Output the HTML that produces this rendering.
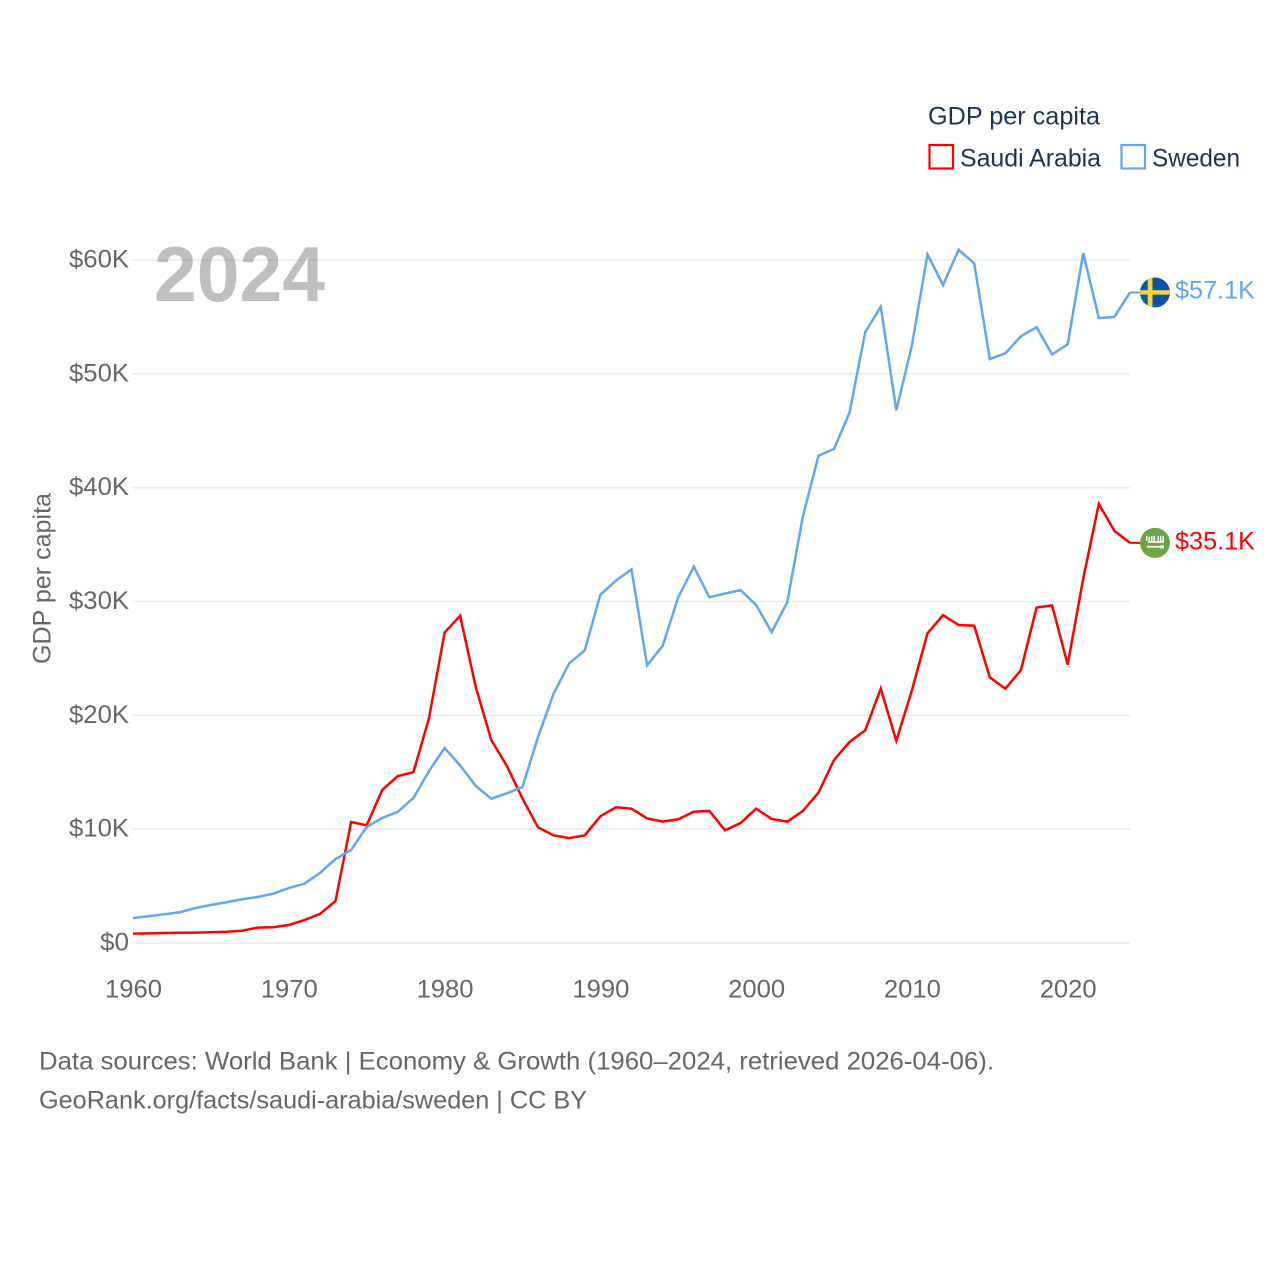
<!DOCTYPE html>
<html lang="en">
<head>
<meta charset="utf-8">
<title>GDP per capita: Saudi Arabia and Sweden</title>
<style>
html,body{margin:0;padding:0;background:#fff;width:1280px;height:1280px;overflow:hidden}
svg{display:block}
text{font-family:"Liberation Sans",Arial,sans-serif}
</style>
</head>
<body>
<svg id="chart" xmlns="http://www.w3.org/2000/svg" width="1280" height="1280" viewBox="0 0 1280 1280">
  <rect x="0" y="0" width="1280" height="1280" fill="#fff"/>
  <g id="grid"></g>
  <g id="yticks"></g>
  <g id="xticks"></g>
  <text transform="translate(50.5,664) rotate(-90)" font-size="25" fill="#666" textLength="171" lengthAdjust="spacingAndGlyphs">GDP per capita</text>
  <text x="154" y="301" font-size="78" font-weight="700" fill="#000" fill-opacity="0.25" textLength="171" lengthAdjust="spacingAndGlyphs">2024</text>
  <path id="line-saudi" fill="none" stroke="#ff0000" stroke-width="2.5" stroke-linejoin="miter"/>
  <path id="line-sweden" fill="none" stroke="#5fa8ee" stroke-width="2.5" stroke-linejoin="miter"/>
  <g id="end-saudi">
    <path id="stub-saudi" d="M0 0H10" stroke="#ff0000" stroke-width="2"/>
    <g>
      <circle cx="25" cy="0" r="15" fill="#6da544"/>
      <g fill="#fff">
        <rect x="16" y="-7" width="1.5" height="5"/><rect x="18.5" y="-6" width="1.5" height="5"/>
        <rect x="21" y="-7" width="1.5" height="6"/><rect x="23.5" y="-7" width="1.5" height="6"/>
        <rect x="27.5" y="-7" width="1.5" height="6"/><rect x="30" y="-7" width="1.5" height="6"/>
        <rect x="32.5" y="-7" width="1.5" height="6"/><rect x="18" y="-1.5" width="16" height="1.4"/>
        <rect x="17" y="3" width="13" height="1.8"/><rect x="30" y="2.4" width="4" height="3"/>
      </g>
    </g>
    <text id="label-saudi" x="45" y="6.5" font-size="25" fill="#ff0000" textLength="80" lengthAdjust="spacingAndGlyphs"></text>
  </g>
  <g id="end-sweden">
    <path id="stub-sweden" d="M0 0H10" stroke="#5fa8ee" stroke-width="2"/>
    <g>
      <circle cx="25" cy="0" r="15" fill="#0a53a8"/>
      <clipPath id="sweden-clip"><circle cx="25" cy="0" r="15"/></clipPath>
      <g clip-path="url(#sweden-clip)" fill="#fdd235">
        <rect x="17.7" y="-15" width="4.8" height="30"/>
        <rect x="10" y="-2.2" width="30" height="4.4"/>
      </g>
    </g>
    <text id="label-sweden" x="45" y="6" font-size="25" fill="#5fa8ee" textLength="80" lengthAdjust="spacingAndGlyphs"></text>
  </g>
  <g>
    <text x="928" y="124.5" font-size="25" fill="#1b3454" textLength="172" lengthAdjust="spacingAndGlyphs">GDP per capita</text>
    <g>
      <rect x="929.5" y="145" width="23.5" height="23.5" fill="#fff" stroke="#ff0000" stroke-width="2.2"/>
      <text x="960" y="166.5" font-size="25" fill="#1b3454" textLength="141" lengthAdjust="spacingAndGlyphs">Saudi Arabia</text>
    </g>
    <g>
      <rect x="1121.5" y="145" width="23.5" height="23.5" fill="#fff" stroke="#5fa8ee" stroke-width="2.2"/>
      <text x="1152" y="166.5" font-size="25" fill="#1b3454" textLength="88" lengthAdjust="spacingAndGlyphs">Sweden</text>
    </g>
  </g>
  <text x="39" y="1069.5" font-size="25" fill="#666" textLength="955" lengthAdjust="spacingAndGlyphs">Data sources: World Bank | Economy &amp; Growth (1960–2024, retrieved 2026-04-06).</text>
  <text x="39" y="1108.5" font-size="25" fill="#666" textLength="548" lengthAdjust="spacingAndGlyphs">GeoRank.org/facts/saudi-arabia/sweden | CC BY</text>
</svg>
<script>
const years = [1960,1961,1962,1963,1964,1965,1966,1967,1968,1969,1970,1971,1972,1973,1974,1975,1976,1977,1978,1979,1980,1981,1982,1983,1984,1985,1986,1987,1988,1989,1990,1991,1992,1993,1994,1995,1996,1997,1998,1999,2000,2001,2002,2003,2004,2005,2006,2007,2008,2009,2010,2011,2012,2013,2014,2015,2016,2017,2018,2019,2020,2021,2022,2023,2024];
const saudiValues = [0.82,0.85,0.88,0.90,0.91,0.94,0.99,1.08,1.35,1.38,1.58,2.02,2.55,3.69,10.63,10.34,13.44,14.67,15.0,19.74,27.26,28.75,22.5,17.83,15.55,12.7,10.16,9.46,9.22,9.46,11.13,11.92,11.8,10.95,10.66,10.87,11.53,11.6,9.9,10.54,11.8,10.9,10.66,11.6,13.2,16.08,17.66,18.68,22.34,17.77,22.2,27.2,28.8,27.93,27.87,23.34,22.34,23.98,29.46,29.66,24.45,32.04,38.57,36.2,35.15];
const swedenValues = [2.2,2.35,2.52,2.70,3.07,3.34,3.58,3.84,4.04,4.33,4.83,5.21,6.15,7.38,8.17,10.2,10.98,11.53,12.74,15.1,17.13,15.6,13.8,12.68,13.15,13.7,18.1,21.9,24.57,25.7,30.6,31.83,32.83,24.4,26.1,30.37,33.06,30.37,30.7,31.0,29.7,27.3,29.95,37.45,42.8,43.4,46.6,53.65,55.9,46.8,52.5,60.5,57.8,60.9,59.7,51.3,51.8,53.3,54.1,51.7,52.6,60.6,54.9,55.0,57.15];
const yTicks = [0,10,20,30,40,50,60];
const yTickLabels = ["$0","$10K","$20K","$30K","$40K","$50K","$60K"];
const xTicks = [1960,1970,1980,1990,2000,2010,2020];

const NS = "http://www.w3.org/2000/svg";
const xScale = function (yr) { return 133 + (yr - 1960) * (1130 - 133) / 64; };
const yScale = function (v) { return 943 - v * (943 - 260) / 60; };

function linePath(vals) {
  return vals.map(function (v, i) {
    return (i ? "L" : "M") + xScale(years[i]).toFixed(2) + " " + yScale(v).toFixed(2);
  }).join("");
}
function fmtK(v) { return "$" + (Math.floor(v * 10) / 10).toFixed(1) + "K"; }

const grid = document.getElementById("grid");
const yG = document.getElementById("yticks");
const xG = document.getElementById("xticks");

yTicks.forEach(function (t, i) {
  const ln = document.createElementNS(NS, "line");
  
  
  ln.setAttribute("x1", 133);
  ln.setAttribute("x2", 1130);
  ln.setAttribute("y1", yScale(t));
  ln.setAttribute("y2", yScale(t));
  ln.setAttribute("stroke", "#ececec");
  ln.setAttribute("stroke-width", "1.6");
  grid.appendChild(ln);

  const tx = document.createElementNS(NS, "text");
  
  
  const label = yTickLabels[i];
  tx.setAttribute("x", label.length > 2 ? 69 : 100);
  tx.setAttribute("y", yScale(t) + 7.5);
  tx.setAttribute("font-size", "25");
  tx.setAttribute("fill", "#666");
  tx.setAttribute("textLength", label.length > 2 ? 60 : 29);
  tx.setAttribute("lengthAdjust", "spacingAndGlyphs");
  tx.textContent = label;
  yG.appendChild(tx);
});

xTicks.forEach(function (t) {
  const tx = document.createElementNS(NS, "text");
  
  
  tx.setAttribute("x", xScale(t) - 28);
  tx.setAttribute("y", 997.5);
  tx.setAttribute("font-size", "25");
  tx.setAttribute("fill", "#666");
  tx.setAttribute("textLength", 57);
  tx.setAttribute("lengthAdjust", "spacingAndGlyphs");
  tx.textContent = t;
  xG.appendChild(tx);
});

document.getElementById("line-saudi").setAttribute("d", linePath(saudiValues));
document.getElementById("line-sweden").setAttribute("d", linePath(swedenValues));

const lastSaudi = saudiValues[saudiValues.length - 1];
const lastSweden = swedenValues[swedenValues.length - 1];
const endX = xScale(years[years.length - 1]);
document.getElementById("end-saudi").setAttribute("transform", "translate(" + endX + "," + yScale(lastSaudi) + ")");
document.getElementById("end-sweden").setAttribute("transform", "translate(" + endX + "," + yScale(lastSweden) + ")");
document.getElementById("label-saudi").textContent = fmtK(lastSaudi);
document.getElementById("label-sweden").textContent = fmtK(lastSweden);
</script>
</body>
</html>
